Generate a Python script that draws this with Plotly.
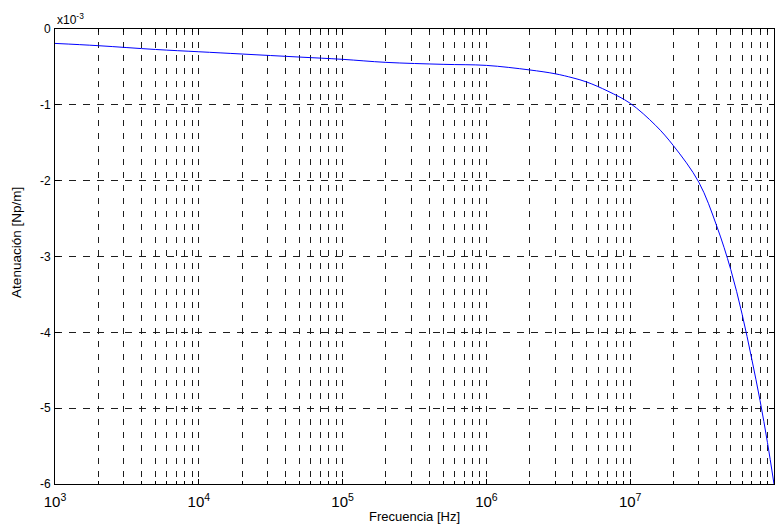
import plotly.graph_objects as go

freq_hz = [1e3, 2e3, 5e3, 1e4, 2e4, 5e4, 1e5, 2e5, 5e5, 1e6, 2e6, 3e6, 4e6, 5e6, 7e6,
           1e7, 1.5e7, 2e7, 3e7, 4e7, 5e7, 6e7, 7e7, 8e7, 9e7, 1e8]
atten_e3 = [-0.19, -0.22, -0.27, -0.30, -0.33, -0.37, -0.40, -0.44, -0.466, -0.48,
            -0.54, -0.59, -0.645, -0.70, -0.82, -0.98, -1.27, -1.54, -2.02, -2.6,
            -3.17, -3.76, -4.35, -4.9, -5.45, -6.0]
y_ticks = [0, -1, -2, -3, -4, -5, -6]
y_ticktext = ["0", "-1", "-2", "-3", "-4", "-5", "-6"]

FONT = "Liberation Sans, Arial, sans-serif"
GRID = "rgb(30,30,30)"

fig = go.Figure()
fig.add_trace(go.Scatter(x=freq_hz, y=atten_e3, mode="lines", line_shape="spline",
                         line=dict(color="rgb(0,0,255)", width=1), showlegend=False))

fig.update_layout(
    width=781, height=526,
    margin=dict(l=55, r=7, t=29, b=42, autoexpand=False),
    paper_bgcolor="white", plot_bgcolor="white",
    font=dict(family=FONT, size=12, color="black"),
)
fig.update_xaxes(
    type="log", range=[3, 8], dtick=1, exponentformat="power",
    showline=True, linecolor="black", linewidth=1, mirror="ticks",
    ticks="inside", ticklen=5, tickcolor="black",
    showgrid=True, gridcolor=GRID, griddash="6px,7px", gridwidth=1,
    minor=dict(dtick="D1", ticks="inside", ticklen=3, tickcolor="black",
               showgrid=True, gridcolor=GRID, griddash="6px,7px", gridwidth=1),
    zeroline=False, automargin=False, ticklabelstandoff=5,
    tickfont=dict(size=12),
)
fig.update_yaxes(
    range=[-6, 0], tickvals=y_ticks, ticktext=y_ticktext,
    showline=True, linecolor="black", linewidth=1, mirror="ticks",
    ticks="inside", ticklen=5, tickcolor="black",
    showgrid=True, gridcolor=GRID, griddash="7px,7px", gridwidth=1,
    zeroline=False, automargin=False, ticklabelstandoff=1,
    tickfont=dict(size=12),
)
fig.add_annotation(text="x10<sup>-3</sup>", xref="paper", yref="paper", x=0, y=1,
                   xanchor="left", yanchor="bottom", showarrow=False, yshift=0,
                   font=dict(size=12, family=FONT))
fig.add_annotation(text="Frecuencia [Hz]", xref="paper", yref="paper", x=0.5, y=-0.0725,
                   xanchor="center", yanchor="middle", showarrow=False,
                   font=dict(size=13, family=FONT))
fig.add_annotation(text="Atenuación [Np/m]", xref="paper", yref="paper", x=-0.0528, y=0.53,
                   xanchor="center", yanchor="middle", showarrow=False, textangle=-90,
                   font=dict(size=13.5, family=FONT))

fig.write_html("out.html", config={"displayModeBar": False},
               post_script="document.body.style.margin='0px';")
